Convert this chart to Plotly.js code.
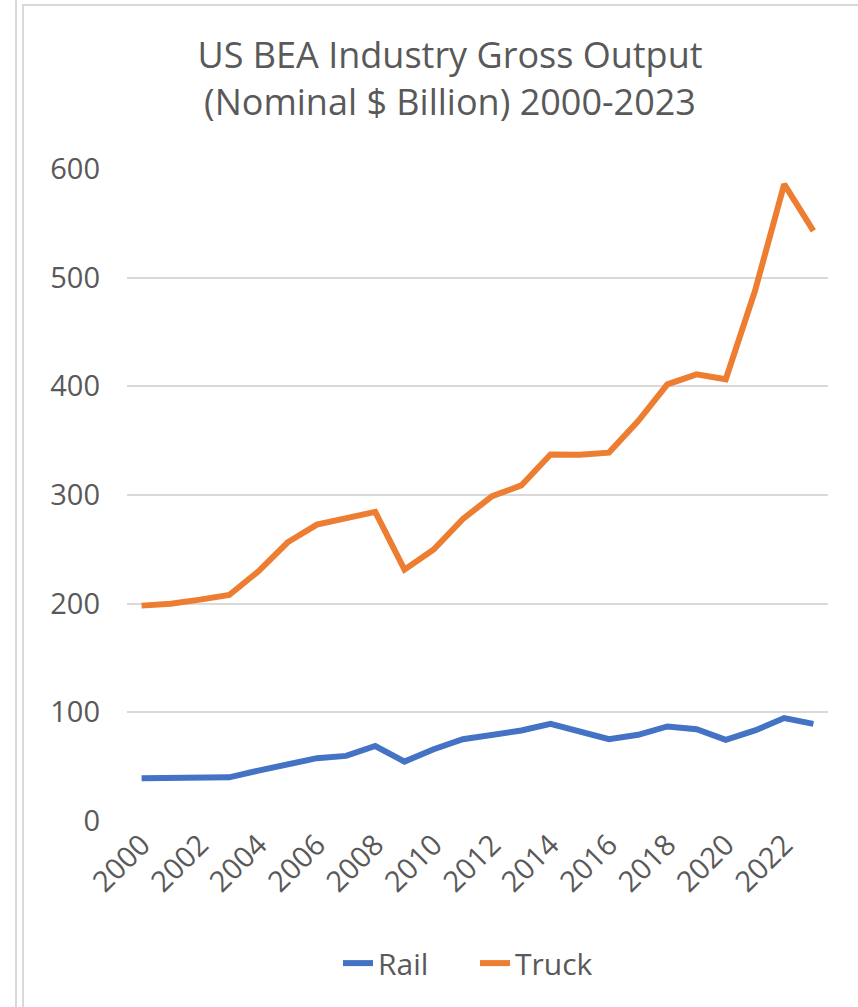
<!DOCTYPE html>
<html>
<head>
<meta charset="utf-8">
<script src="https://cdn.plot.ly/plotly-3.0.1.min.js"></script>
<style>
  html, body { margin: 0; padding: 0; background: #ffffff; }
  #wrap { position: relative; width: 858px; height: 1007px; overflow: hidden; }
  #chart { position: absolute; left: 0; top: 0; width: 858px; height: 1007px; }
  .frame1 { position: absolute; left: 15px; top: 0; width: 2px; height: 1007px; background: #d9d9d9; }
  .frame2 { position: absolute; left: 22px; top: 4px; right: 0; bottom: 0; border-left: 2px solid #d9d9d9; border-top: 2px solid #d9d9d9; pointer-events: none; }
</style>
</head>
<body>
<div id="wrap">
  <div id="chart"></div>
  <div class="frame1"></div>
  <div class="frame2"></div>
</div>
<script>
const years = [2000,2001,2002,2003,2004,2005,2006,2007,2008,2009,2010,2011,
               2012,2013,2014,2015,2016,2017,2018,2019,2020,2021,2022,2023];
const rail  = [39.3,39.3,40.2,40.2,46.4,51.6,57.8,59.9,69.0,54.7,66.0,75.3,
               79.3,83.3,89.4,82.3,75.3,79.3,87.0,84.5,74.7,83.3,94.7,89.4];
const truck = [198.2,200.0,203.7,208.0,229.8,256.5,272.8,279.0,284.5,231.3,249.8,278.0,
               298.9,308.8,337.3,337.0,339.0,368.0,401.8,411.0,406.5,487.8,586.0,543.0];
const yTicks = [0,100,200,300,400,500,600];
const titleText = 'US BEA Industry Gross Output<br>(Nominal $ Billion) 2000-2023';

const FONT = '"Open Sans", "Noto Sans", sans-serif';
const GREY = '#595959';

const traces = [
  { x: years, y: rail, name: 'Rail', type: 'scatter', mode: 'lines',
    line: { color: '#4472C4', width: 6 } },
  { x: years, y: truck, name: 'Truck', type: 'scatter', mode: 'lines',
    line: { color: '#ED7D31', width: 6 } }
];

const layout = {
  width: 858, height: 1007,
  paper_bgcolor: '#ffffff', plot_bgcolor: '#ffffff',
  margin: { l: 127, r: 30, t: 169, b: 186 },
  font: { family: FONT, color: GREY, size: 29 },
  title: { text: titleText, font: { family: FONT, size: 36, color: GREY },
           x: 450/858, xref: 'container', xanchor: 'center',
           y: 1 - 68/1007, yref: 'container', yanchor: 'top' },
  xaxis: {
    range: [1999.5, 2023.5], tickmode: 'linear', tick0: 2000, dtick: 2,
    tickangle: -45, showgrid: false, zeroline: false, showline: false,
    ticks: '', tickfont: { family: FONT, size: 29, color: GREY }, fixedrange: true
  },
  yaxis: {
    range: [0, 600], tickmode: 'array', tickvals: yTicks, ticktext: yTicks.map(String),
    showgrid: true, gridcolor: '#d9d9d9', gridwidth: 2, zeroline: false, showline: false,
    ticks: '', ticklabelstandoff: 26, tickfont: { family: FONT, size: 29, color: GREY },
    fixedrange: true
  },
  showlegend: true,
  legend: { orientation: 'h', x: (338-127)/701, xanchor: 'left', y: (821-963)/651.5, yanchor: 'middle',
            entrywidth: 92, entrywidthmode: 'pixels',
            font: { family: FONT, size: 30, color: GREY }, itemwidth: 30, traceorder: 'normal' }
};

Plotly.newPlot('chart', traces, layout, { displayModeBar: false, staticPlot: true });
</script>
</body>
</html>
